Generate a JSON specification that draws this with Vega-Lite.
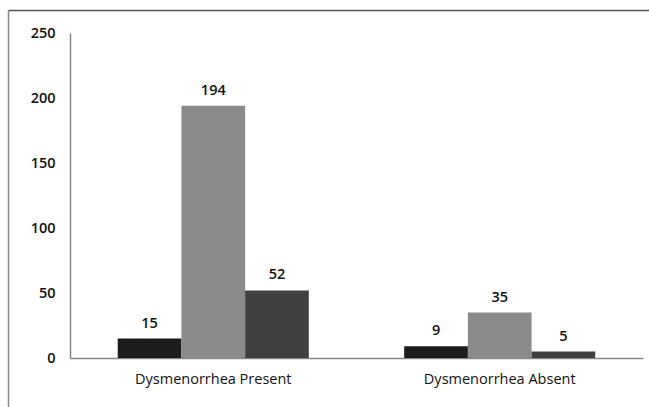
{
  "$schema": "https://vega.github.io/schema/vega-lite/v6.json",
  "autosize": "none",
  "padding": {"left": 8, "top": 10, "right": 0, "bottom": 0},
  "width": 641,
  "height": 397,
  "background": "white",
  "config": {
    "view": {"stroke": null},
    "font": "Open Sans"
  },
  "data": {
    "values": [
      {"category": "Dysmenorrhea Present", "group": "Group 1", "value": 15},
      {"category": "Dysmenorrhea Present", "group": "Group 2", "value": 194},
      {"category": "Dysmenorrhea Present", "group": "Group 3", "value": 52},
      {"category": "Dysmenorrhea Absent", "group": "Group 1", "value": 9},
      {"category": "Dysmenorrhea Absent", "group": "Group 2", "value": 35},
      {"category": "Dysmenorrhea Absent", "group": "Group 3", "value": 5}
    ]
  },
  "resolve": {"scale": {"x": "independent", "y": "independent"}, "axis": {"x": "independent", "y": "independent"}},
  "layer": [
    {
      "encoding": {
        "x": {
          "field": "category",
          "type": "nominal",
          "sort": ["Dysmenorrhea Present", "Dysmenorrhea Absent"],
          "scale": {"range": [62, 635], "paddingInner": 0.333, "paddingOuter": 0.1667},
          "axis": {
            "title": null,
            "labelAngle": 0,
            "ticks": false,
            "offset": -49,
            "domainColor": "#888888",
            "domainWidth": 1.5,
            "labelPadding": 14,
            "labelFontSize": 14.5,
            "labelColor": "#111111",
            "labelFont": "Open Sans"
          }
        },
        "xOffset": {
          "field": "group",
          "type": "nominal",
          "sort": ["Group 1", "Group 2", "Group 3"],
          "scale": {"paddingInner": 0, "paddingOuter": 0}
        },
        "y": {
          "field": "value",
          "type": "quantitative",
          "scale": {"domain": [0, 250], "range": [348, 23], "nice": false},
          "axis": {
            "title": null,
            "values": [0, 50, 100, 150, 200, 250],
            "ticks": false,
            "grid": false,
            "offset": -62,
            "domainColor": "#888888",
            "domainWidth": 1.5,
            "labelPadding": 15,
            "labelFontSize": 14.5,
            "labelFontWeight": 600,
            "labelColor": "#111111",
            "labelFont": "Open Sans"
          }
        }
      },
      "layer": [
        {
          "mark": {"type": "bar", "stroke": null},
          "encoding": {
            "color": {
              "field": "group",
              "type": "nominal",
              "scale": {"domain": ["Group 1", "Group 2", "Group 3"], "range": ["#1c1c1c", "#8a8a8a", "#404040"]},
              "legend": null
            }
          }
        },
        {
          "mark": {"type": "text", "baseline": "bottom", "dy": -8, "fontSize": 14.5, "fontWeight": 600, "color": "#111111", "font": "Open Sans"},
          "encoding": {
            "text": {"field": "value", "type": "quantitative"}
          }
        }
      ]
    },
    {
      "mark": {"type": "point", "opacity": 0},
      "encoding": {
        "x": {
          "datum": 0,
          "type": "quantitative",
          "scale": {"domain": [0, 1], "range": [0, 641]},
          "axis": {"orient": "top", "title": null, "labels": false, "ticks": false, "grid": false, "domainColor": "#555555", "domainWidth": 1.5, "offset": 0}
        },
        "y": {
          "datum": 0,
          "type": "quantitative",
          "scale": {"domain": [0, 1], "range": [397, 0]},
          "axis": {"orient": "left", "title": null, "labels": false, "ticks": false, "grid": false, "domainColor": "#888888", "domainWidth": 1.5, "offset": 0}
        }
      }
    }
  ]
}
